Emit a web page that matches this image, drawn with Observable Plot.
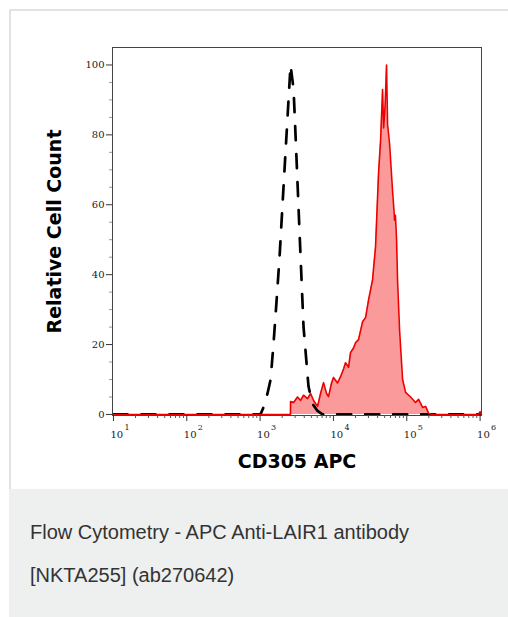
<!DOCTYPE html>
<html>
<head>
<meta charset="utf-8">
<script src="https://cdn.jsdelivr.net/npm/d3@7"></script>
<script src="https://cdn.jsdelivr.net/npm/@observablehq/plot@0.6"></script>
<style>
  html, body { margin: 0; padding: 0; background: #fff; width: 508px; height: 617px; overflow: hidden; }
  #card { position: absolute; left: 9px; top: 9px; width: 520px; height: 478px; border: 2px solid #e2e2e2; background: #fff; }
  #capbox { position: absolute; left: 9px; top: 489px; width: 520px; height: 128px; background: #eeefef; }
  .cap { position: absolute; left: 30px; font-family: "Liberation Sans", Arial, sans-serif; font-size: 20px; color: #333; letter-spacing: 0px; white-space: nowrap; }
  #chart { position: absolute; left: 0; top: 0; }
</style>
</head>
<body>
<div id="card"></div>
<div id="capbox"></div>
<div class="cap" style="top:521px">Flow Cytometry - APC Anti-LAIR1 antibody</div>
<div class="cap" style="top:564px">[NKTA255] (ab270642)</div>
<div id="chart"></div>
<script>
// Isotype control (black dashed): intensity, relative count
const isoX = [10, 1010, 1110, 1260, 1390, 1520, 1670, 1840, 2020, 2220, 2440, 2600, 2860, 3040, 3240, 3450, 3910, 4570, 5190, 6070, 7100, 1000000];
const isoY = [0, 0, 2, 6, 10, 20, 32, 45, 60, 75, 90, 100, 93, 80, 66, 52, 25, 8, 3, 1, 0, 0];

// Stained sample (red filled)
const stX = [10, 2590, 2600, 2860, 3240, 3560, 3910, 4440, 4880, 5360, 6070, 6670, 7330, 8050, 8570, 9420, 10020, 11380, 12500, 13740, 14620, 16070, 17100, 18790, 20040, 21980, 24950, 27420, 30130, 34120, 37500, 41210, 43950, 46770, 48310, 50580, 52970, 54700, 58210, 63970, 66070, 68230, 70000, 72610, 74820, 79800, 87700, 96400, 112700, 131800, 144900, 164400, 180700, 198600, 225000, 950000, 1000000, 1040000];
const stY = [0, 0, 3.7, 3.4, 5, 4, 5.5, 4.5, 6, 4, 2.3, 6, 9.1, 6, 5.1, 9, 10.6, 9, 10.8, 13, 14.8, 13.5, 17.7, 19, 20.5, 21.4, 26.5, 27.7, 32.8, 38.5, 48, 69, 78.5, 93, 82, 88, 100, 83, 77.6, 64, 60, 55.6, 57, 50, 38.5, 24, 10, 6.3, 5, 3.4, 4.3, 2, 2.3, 0.3, 0, 0, 0.8, 0];

const decades = [10, 100, 1000, 10000, 100000, 1000000];
const exps = ["1", "2", "3", "4", "5", "6"];
const minorX = [];
for (let e = 1; e <= 5; e++) for (let m = 2; m <= 9; m++) minorX.push(m * Math.pow(10, e));
const yMajor = [0, 20, 40, 60, 80, 100];
const yMinor = [5, 10, 15, 25, 30, 35, 45, 50, 55, 65, 70, 75, 85, 90, 95];

const iso = isoX.map((x, i) => ({x, y: isoY[i]}));
const st = stX.map((x, i) => ({x, y: stY[i]}));

const serif = "DejaVu Serif, serif";
const sans = "DejaVu Sans, sans-serif";

const chart = Plot.plot({
  width: 508,
  height: 490,
  marginLeft: 112,
  marginRight: 27,
  marginTop: 47,
  marginBottom: 75,
  style: {background: "transparent", overflow: "visible"},
  x: {type: "log", domain: [9.7, 1.045e6]},
  y: {domain: [-0.3, 105]},
  marks: [
    Plot.areaY(st, {x: "x", y: "y", fill: "#fa9a9a", curve: "linear"}),
    Plot.lineY(iso, {x: "x", y: "y", stroke: "#000", strokeWidth: 2.7, strokeDasharray: "14,14", curve: "linear"}),
    Plot.lineY(st, {x: "x", y: "y", stroke: "#ee0000", strokeWidth: 1.6, curve: "linear"}),
    Plot.frame({stroke: "#444", strokeWidth: 1}),
    Plot.axisY({ticks: yMajor, tickSize: 6, tickPadding: 2, fontSize: 10, fontFamily: serif, stroke: "#333", fill: "#222", label: null}),
    Plot.axisY({ticks: yMinor, tickSize: 3, text: null, stroke: "#999", label: null}),
    Plot.axisX({ticks: decades, tickSize: 6, text: null, stroke: "#333", label: null}),
    Plot.axisX({ticks: minorX, tickSize: 3, text: null, stroke: "#555", label: null}),
    Plot.text(decades, {x: d => d, frameAnchor: "bottom", dy: 22, dx: -3, text: d => "10", textAnchor: "start", lineAnchor: "bottom", fontSize: 10, fontFamily: serif, fill: "#222"}),
    Plot.text(decades, {x: d => d, frameAnchor: "bottom", dy: 14, dx: 11, text: (d, i) => exps[i], textAnchor: "start", lineAnchor: "bottom", fontSize: 8, fontFamily: serif, fill: "#222"}),
    Plot.text(["Relative Cell Count"], {frameAnchor: "left", dx: -52, rotate: -90, text: d => d, textAnchor: "middle", lineAnchor: "bottom", fontSize: 19, fontWeight: "bold", fontFamily: sans, fill: "#000"}),
    Plot.text(["CD305 APC"], {frameAnchor: "bottom", dy: 52, text: d => d, textAnchor: "middle", lineAnchor: "bottom", fontSize: 19, fontWeight: "bold", fontFamily: sans, fill: "#000"})
  ]
});
document.getElementById("chart").appendChild(chart);
</script>
</body>
</html>
